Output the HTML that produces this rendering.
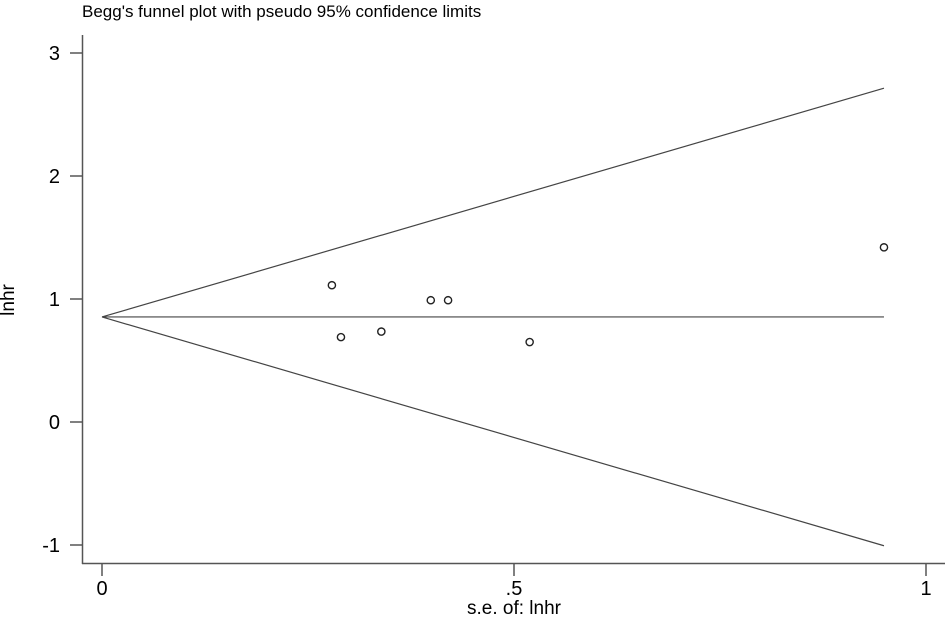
<!DOCTYPE html>
<html><head><meta charset="utf-8"><style>
html,body{margin:0;padding:0;background:#fff;}
svg{display:block;font-family:"Liberation Sans",Arial,sans-serif;}
</style></head><body>
<svg id="chart" width="945" height="618" viewBox="0 0 945 618">
<text x="82" y="17" font-size="17" fill="#000">Begg's funnel plot with pseudo 95% confidence limits</text>
<g id="axes"></g>
<g id="marks"></g>
<text x="14" y="300" font-size="19" fill="#000" text-anchor="middle" transform="rotate(-90 14 300)">lnhr</text>
<text x="514" y="614" font-size="19" fill="#000" text-anchor="middle">s.e. of: lnhr</text>
</svg>
<script>
const seValues = [0.279, 0.290, 0.339, 0.399, 0.420, 0.519, 0.949];
const lnhrValues = [1.112, 0.69, 0.735, 0.99, 0.99, 0.65, 1.42];
const pooledEstimate = 0.854;
const maxSE = 0.949;
const xTicks = [0, 0.5, 1];
const xTickLabels = ["0", ".5", "1"];
const yTicks = [-1, 0, 1, 2, 3];
const yTickLabels = ["-1", "0", "1", "2", "3"];

const NS = "http://www.w3.org/2000/svg";
const x = v => 102 + v * 824;
const y = v => 422 - v * 123;
const axes = document.getElementById('axes');
const marks = document.getElementById('marks');
function mk(tag, attrs, parent){const e=document.createElementNS(NS,tag);for(const k in attrs)e.setAttribute(k,attrs[k]);parent.appendChild(e);return e;}

let e = mk('line',{x1:82.5,y1:35,x2:82.5,y2:564,stroke:'#555','stroke-width':1.5},axes);


e = mk('line',{x1:82,y1:563.5,x2:945,y2:563.5,stroke:'#555','stroke-width':1.5},axes);



yTicks.forEach((t,i)=>{
  const tk = mk('line',{x1:70,x2:82.5,y1:y(t),y2:y(t),stroke:'#555','stroke-width':1.5},axes);
  
  
  const lb = mk('text',{x:60,y:y(t)+7,'font-size':20,'text-anchor':'end',fill:'#000'},axes);
  lb.textContent = yTickLabels[i];
  
  
});
xTicks.forEach((t,i)=>{
  const tk = mk('line',{x1:x(t),x2:x(t),y1:563.5,y2:576,stroke:'#555','stroke-width':1.5},axes);
  
  
  const lb = mk('text',{x:x(t),y:595,'font-size':20,'text-anchor':'middle',fill:'#000'},axes);
  lb.textContent = xTickLabels[i];
  
  
});

e = mk('line',{x1:x(0),y1:y(pooledEstimate),x2:x(maxSE),y2:y(pooledEstimate),stroke:'#444','stroke-width':1.2},marks);


e = mk('line',{x1:x(0),y1:y(pooledEstimate),x2:x(maxSE),y2:y(pooledEstimate+1.96*maxSE),stroke:'#444','stroke-width':1.2},marks);


e = mk('line',{x1:x(0),y1:y(pooledEstimate),x2:x(maxSE),y2:y(pooledEstimate-1.96*maxSE),stroke:'#444','stroke-width':1.2},marks);



seValues.forEach((s,i)=>{
  const c = mk('circle',{cx:x(s),cy:y(lnhrValues[i]),r:3.6,fill:'none',stroke:'#222','stroke-width':1.4},marks);
  
  
});
</script>
</body></html>
